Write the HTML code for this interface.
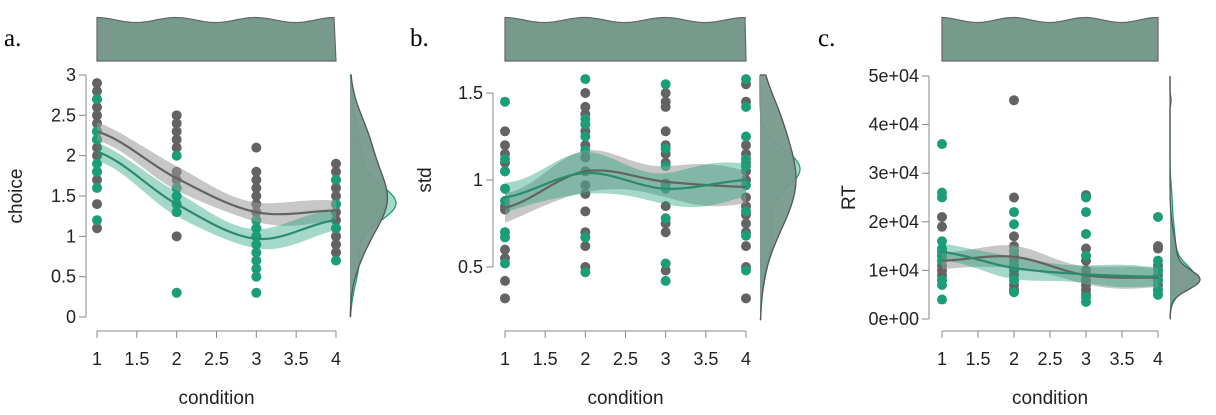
<!DOCTYPE html>
<html><head><meta charset="utf-8"><style>
html,body{margin:0;padding:0;background:#fff;}
svg{display:block;font-family:"Liberation Sans",sans-serif;}
</style></head><body>
<svg id="s" width="1216" height="415" xmlns="http://www.w3.org/2000/svg">
<text x="4" y="46" font-family="Liberation Serif, serif" font-size="25">a.</text>
<text x="410" y="46" font-family="Liberation Serif, serif" font-size="25">b.</text>
<text x="818" y="46" font-family="Liberation Serif, serif" font-size="25">c.</text>
</svg>
<script>
const S=document.getElementById('s');let h='';
const G='#636363',T='#1b9e77',MF='#789a8d';
function panel(o){
 const {x1,x4,ax,yTop,yBot,vTop,vBot,ticks,tl,ylab,ylx,gp,tp,gl,tl2,band,mx,mw,gd,td,dTop,dBot}=o;
 const X=c=>x1+(c-1)*(x4-x1)/3, Y=v=>yBot-(v-vBot)*(yBot-yTop)/(vTop-vBot);
 let p=`M${x1},61 L${x1},20`;
 for(let x=x1;x<=x4;x+=3){p+=` L${x},${20+2.5*Math.sin((x-x1)/(x4-x1)*Math.PI*6-1.5)}`}
 p+=` L${x4},61 Z`;
 h+=`<path d="${p}" fill="${MF}" stroke="#666" stroke-width="1.2"/>`;
 const ty=ticks.map(Y);
 h+=`<line x1="${ax}" y1="${Math.min(...ty)}" x2="${ax}" y2="${Math.max(...ty)}" stroke="#888" stroke-width="1"/>`;
 ticks.forEach((t,i)=>{h+=`<line x1="${ax-7}" y1="${ty[i]}" x2="${ax}" y2="${ty[i]}" stroke="#888"/><text x="${ax-10}" y="${ty[i]+6}" font-size="18" text-anchor="end" fill="#222">${tl[i]}</text>`});
 h+=`<text transform="translate(${ylx},${(yTop+yBot)/2}) rotate(-90)" font-size="19" text-anchor="middle" fill="#222">${ylab}</text>`;
 h+=`<line x1="${x1}" y1="331" x2="${x4}" y2="331" stroke="#888"/>`;
 [1,1.5,2,2.5,3,3.5,4].forEach(c=>{h+=`<line x1="${X(c)}" y1="331" x2="${X(c)}" y2="338" stroke="#888"/><text x="${X(c)}" y="365" font-size="18" text-anchor="middle" fill="#222">${c}</text>`});
 h+=`<text x="${(x1+x4)/2}" y="404" font-size="19" text-anchor="middle" fill="#222">condition</text>`;
 gp.forEach((arr,i)=>arr.forEach(v=>h+=`<circle cx="${X(i+1)}" cy="${Y(v)}" r="5" fill="${G}"/>`));
 tp.forEach((arr,i)=>arr.forEach(v=>h+=`<circle cx="${X(i+1)}" cy="${Y(v)}" r="5" fill="${T}"/>`));
 function interp(vals,c){const i=Math.min(2,Math.floor(c-1)),t=c-1-i;const p0=vals[Math.max(0,i-1)],p1=vals[i],p2=vals[i+1],p3=vals[Math.min(3,i+2)];
  return 0.5*((2*p1)+(-p0+p2)*t+(2*p0-5*p1+4*p2-p3)*t*t+(-p0+3*p1-3*p2+p3)*t*t*t);}
 function bandPath(vals,w,col,op){let a='',b='';for(let c=1;c<=4.0001;c+=0.05){const v=interp(vals,Math.min(c,4));const ww=w[0]+w[1]*Math.sin(c*4);a+=`${a?'L':'M'}${X(c)},${Y(v+ww)} `;b=`L${X(c)},${Y(v-ww)} `+b}
  h+=`<path d="${a}${b}Z" fill="${col}" fill-opacity="${op}"/>`}
 function line(vals,col){let a='';for(let c=1;c<=4.0001;c+=0.05){a+=`${a?'L':'M'}${X(c)},${Y(interp(vals,Math.min(c,4)))} `}h+=`<path d="${a}" fill="none" stroke="${col}" stroke-width="2.2"/>`}
 bandPath(gl,band,'#999',0.55);bandPath(tl2,band,T,0.4);line(gl,G);line(tl2,'#2a8c6c');
 const f=(d,v)=>{let s=0;d.forEach(k=>s+=k[2]*Math.exp(-0.5*((v-k[0])/k[1])**2));return s};
 let mxs=0;for(let y=dTop;y<=dBot;y++){const v=vBot+(yBot-y)/(yBot-yTop)*(vTop-vBot);mxs=Math.max(mxs,f(gd,v),f(td,v))}
 function dens(d,col,fill,op){let pth=`M${mx},${dTop}`;for(let y=dTop;y<=dBot;y+=1.5){const v=vBot+(yBot-y)/(yBot-yTop)*(vTop-vBot);pth+=` L${mx+mw*f(d,v)/mxs},${y}`}pth+=` L${mx},${dBot}`;h+=`<path d="${pth} Z" fill="${fill}" fill-opacity="${op}" stroke="none"/><path d="${pth}" fill="none" stroke="${col}" stroke-width="1.3"/>`}
 dens(td,T,T,0.4);dens(gd,'#555',MF,0.95);
}
panel({x1:97,x4:336,ax:86,yTop:75,yBot:317,vTop:3,vBot:0,ticks:[0,0.5,1,1.5,2,2.5,3],tl:['0','0.5','1','1.5','2','2.5','3'],ylab:'choice',ylx:22,
 gp:[[1.1,1.4,1.7,1.8,2.0,2.1,2.2,2.3,2.4,2.5,2.6,2.7,2.8,2.9],[1.0,1.3,1.4,1.5,1.6,1.7,1.8,2.1,2.2,2.3,2.4,2.5],[1.0,1.1,1.2,1.3,1.4,1.5,1.6,1.7,1.8,2.1],[0.8,0.9,1.0,1.1,1.2,1.3,1.4,1.5,1.6,1.7,1.8,1.9]],
 tp:[[1.2,1.6,1.8,1.9,2.2,2.3,2.7],[0.3,1.3,1.4,1.5,1.6,2.0],[0.3,0.5,0.6,0.7,0.8,0.9,1.0,1.1,1.2],[0.7,1.1,1.4,1.7]],
 gl:[2.3,1.72,1.3,1.32],tl2:[2.05,1.4,0.97,1.2],band:[0.13,0.02],mx:350,mw:46,dTop:75,dBot:317,
 gd:[[1.45,0.38,0.8],[2.2,0.35,0.35],[0.8,0.3,0.15]],td:[[1.4,0.22,0.95],[2.0,0.4,0.25],[0.7,0.3,0.2]]});
panel({x1:505,x4:746,ax:493,yTop:93,yBot:267,vTop:1.5,vBot:0.5,ticks:[0.5,1,1.5],tl:['0.5','1','1.5'],ylab:'std',ylx:431,
 gp:[[0.32,0.42,0.55,0.6,0.7,0.83,0.85,0.95,1.05,1.1,1.15,1.2,1.28],[0.5,0.62,0.7,0.82,0.92,0.97,1.05,1.13,1.2,1.28,1.38,1.42,1.5],[0.48,0.7,0.75,0.85,0.98,1.1,1.15,1.2,1.28,1.42,1.45,1.5],[0.32,0.5,0.62,0.7,0.75,0.8,0.85,0.9,1.0,1.05,1.1,1.15,1.2,1.45,1.55]],
 tp:[[0.52,0.67,0.7,0.88,0.95,1.05,1.12,1.45],[0.47,0.67,1.17,1.25,1.32,1.35,1.58],[0.42,0.52,0.78,0.95,1.08,1.18,1.55],[0.48,0.68,0.82,0.97,1.08,1.12,1.25,1.42,1.58]],
 gl:[0.84,1.05,0.99,0.96],tl2:[0.9,1.04,0.95,1.0],band:[0.1,0.02],mx:760,mw:40,dTop:75,dBot:320,
 gd:[[1.0,0.28,0.9],[1.4,0.15,0.15]],td:[[1.07,0.11,0.95],[0.7,0.2,0.3]]});
panel({x1:942,x4:1158,ax:929,yTop:76,yBot:319,vTop:5,vBot:0,ticks:[0,1,2,3,4,5],tl:['0e+00','1e+04','2e+04','3e+04','4e+04','5e+04'],ylab:'RT',ylx:855,
 gp:[[0.8,0.9,1.0,1.1,1.2,1.3,1.4,1.9,2.1],[0.6,0.7,0.8,0.9,1.0,1.1,1.2,1.3,1.4,1.5,1.7,2.5,4.5],[0.5,0.6,0.7,0.8,0.9,1.0,1.2,1.45,2.55],[0.5,0.6,0.7,0.8,0.9,1.0,1.1,1.45,1.5]],
 tp:[[0.4,0.7,0.8,1.2,1.3,1.45,1.6,2.5,2.6,3.6],[0.55,0.8,1.1,1.4,1.95,2.2],[0.35,0.45,1.3,1.75,2.2,2.5],[0.5,0.6,0.8,1.0,1.2,2.1]],
 gl:[1.2,1.28,0.9,0.85],tl2:[1.38,1.05,0.92,0.87],band:[0.2,0.03],mx:1170,mw:30,dTop:76,dBot:319,
 gd:[[0.8,0.2,1.0],[1.3,0.45,0.25],[4.5,0.08,0.04]],td:[[0.85,0.25,0.85],[1.5,0.5,0.2],[2.5,0.3,0.05]]});
S.insertAdjacentHTML('beforeend',h);
</script>
</body></html>
